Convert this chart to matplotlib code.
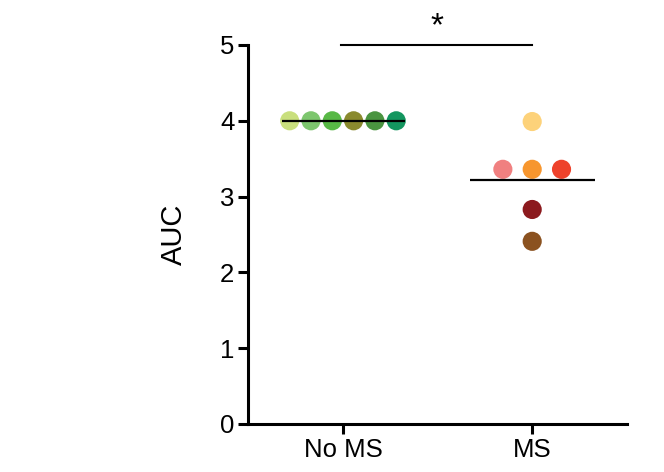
import numpy as np
import matplotlib.pyplot as plt

plt.rcParams['font.family'] = ['Liberation Sans', 'DejaVu Sans']

groups = ['No MS', 'MS']
no_ms = [4.0, 4.0, 4.0, 4.0, 4.0, 4.0]
ms = [3.99, 3.36, 3.36, 3.36, 2.83, 2.41]
no_ms_colors = ['#C9DF7D', '#7DC66E', '#58B846', '#8A8A2E', '#4A9440', '#14965F']
ms_colors = ['#FDD27A', '#F08080', '#F7962E', '#EE422B', '#8C1A1E', '#8B5220']

# horizontal placement of the dots inside each column
no_ms_x = 0 + (np.arange(6) - 2.5) * 0.1126
ms_x = 1 + np.array([0, -0.155, 0, 0.155, 0, 0])

fig = plt.figure(figsize=(6.64, 4.72), dpi=100)
ax = fig.add_axes([0.374, 0.1017, 0.570, 0.803])

ax.scatter(no_ms_x, no_ms, s=190, c=no_ms_colors, edgecolors='none', zorder=2)
ax.scatter(ms_x, ms, s=190, c=ms_colors, edgecolors='none', zorder=2)

# group means
ax.hlines(np.mean(no_ms), -0.32, 0.33, color='black', lw=1.6, zorder=3)
ax.hlines(np.mean(ms), 1 - 0.33, 1 + 0.33, color='black', lw=1.6, zorder=3)

# significance bar
ax.plot([-0.01, 1.0], [5.0, 5.0], color='black', lw=1.5, clip_on=False)
ax.text(0.495, 5.04, '*', ha='center', va='bottom', fontsize=24, clip_on=False)

ax.set_xlim(-0.5, 1.5)
ax.set_ylim(0, 5)
ax.set_xticks([0, 1])
ax.set_xticklabels(groups)
ax.set_yticks(range(6))
ax.set_ylabel('AUC', fontsize=21, labelpad=23)

for side in ['top', 'right']:
    ax.spines[side].set_visible(False)
for side in ['left', 'bottom']:
    ax.spines[side].set_linewidth(2.2)
ax.tick_params(width=2.2, length=7, labelsize=18.5, pad=3)

plt.savefig('out.png', dpi=100)
